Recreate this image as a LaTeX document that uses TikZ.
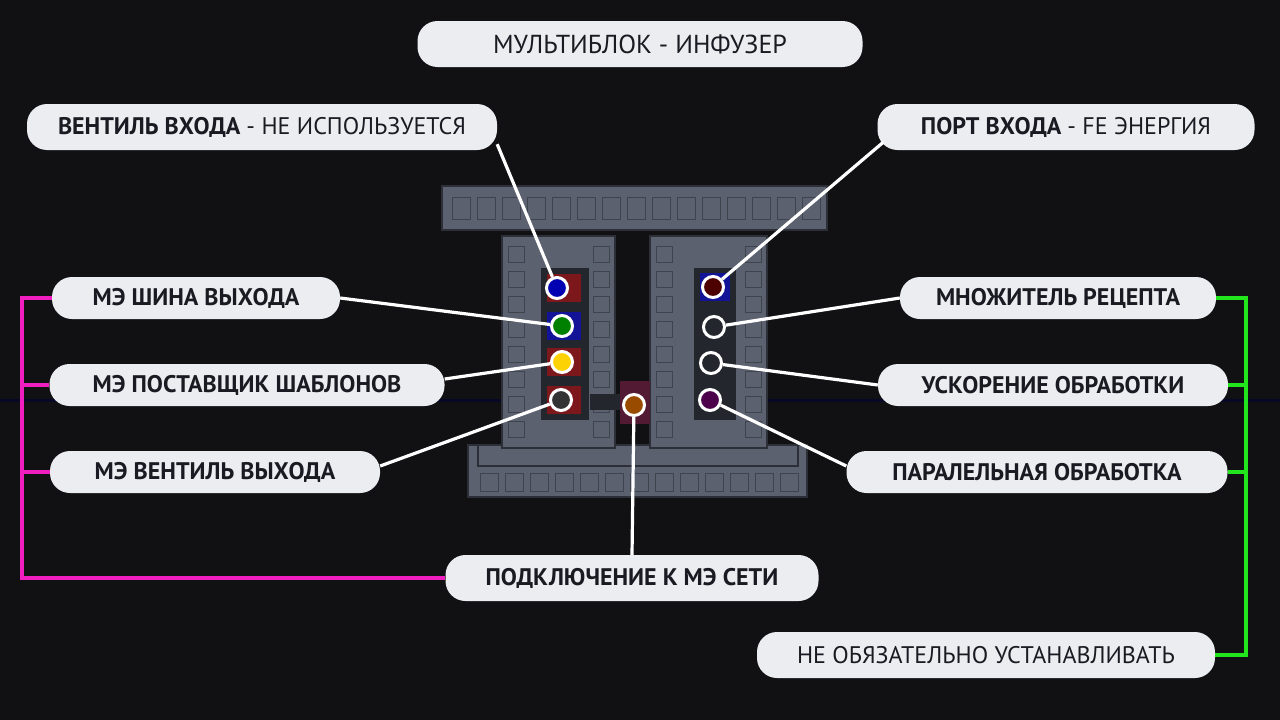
\documentclass[tikz,border=0pt]{standalone}
\usepackage{fontspec}
\setmainfont{PT Sans}
\begin{document}
\begin{tikzpicture}[x=1pt,y=-1pt,
 lab/.style={draw=none,fill=labfill,rounded corners=20pt,text=labtext,font=\fontsize{24}{26}\selectfont\bfseries,minimum height=42pt,inner xsep=8pt,align=center},
 con/.style={draw=white,line width=3.2pt},
 hole/.style={circle,draw=white,line width=3pt,minimum size=21pt,inner sep=0pt},
 blk/.style={fill=stone,draw=stoned,line width=2pt},
 mag/.style={draw=magline,line width=4pt},
 grn/.style={draw=grnline,line width=4pt}]
\definecolor{bg}{HTML}{111113}
\definecolor{labfill}{HTML}{ECEDF1}
\definecolor{labtext}{HTML}{1A1A22}
\definecolor{stone}{HTML}{5C6170}
\definecolor{stoned}{HTML}{2C2F38}
\definecolor{slot}{HTML}{24262E}
\definecolor{magline}{HTML}{F01EC0}
\definecolor{grnline}{HTML}{22E51E}
\fill[bg] (0,0) rectangle (1280,720);
\useasboundingbox (0,0) rectangle (1280,720);
\fill[black!80!blue!60!bg] (0,399) rectangle (1280,402);
% structure
\draw[blk] (468,445) rectangle (807,497);
\draw[blk] (478,445) rectangle (798,466);
\draw[blk] (502,236) rectangle (615,448);
\draw[blk] (650,236) rectangle (767,448);
\draw[blk] (442,186) rectangle (827,230);
\foreach \x in {452,477,...,815} \draw[stoned!60!stone,line width=1pt] (\x,197) rectangle ++(18,22);
\foreach \x in {480,505,...,790} \draw[stoned!60!stone,line width=1pt] (\x,473) rectangle ++(18,18);
\foreach \y in {246,271,...,430} {\draw[stoned!60!stone,line width=1pt] (508,\y) rectangle ++(16,16); \draw[stoned!60!stone,line width=1pt] (593,\y) rectangle ++(16,16);
 \draw[stoned!60!stone,line width=1pt] (656,\y) rectangle ++(16,16); \draw[stoned!60!stone,line width=1pt] (745,\y) rectangle ++(16,16);}
\fill[slot] (541,268) rectangle (589,420);
\fill[slot] (694,268) rectangle (736,420);
\fill[slot] (590,394) rectangle (622,410);
\fill[slot!70!purple] (620,381) rectangle (650,424);
\foreach \y in {288,326,362,400} \fill[slot!60!red] (547,\y-14) rectangle (581,\y+14);
\fill[blue!50!slot] (547,312) rectangle (581,340);
\fill[blue!50!slot] (700,273) rectangle (730,301);
\node[hole,fill=blue!70!black] (h1) at (557,288) {};
\node[hole,fill=green!50!black] (h2) at (562,326) {};
\node[hole,fill=yellow!70!orange] (h3) at (562,362) {};
\node[hole,fill=black!80] (h4) at (561,400) {};
\node[hole,fill=orange!60!black] (hc) at (634,405) {};
\node[hole,fill=red!30!black] (r1) at (713,287) {};
\node[hole,fill=slot] (r2) at (714,327) {};
\node[hole,fill=slot] (r3) at (711,363) {};
\node[hole,fill=violet!60!black] (r4) at (710,400) {};
% labels
\node[lab,font=\fontsize{26}{28}\selectfont,minimum height=46pt,minimum width=445pt] (t) at (640,44) {МУЛЬТИБЛОК - ИНФУЗЕР};
\node[lab,minimum height=46pt,minimum width=470pt] (l1) at (262,127) {ВЕНТИЛЬ ВХОДА \mdseries - НЕ ИСПОЛЬЗУЕТСЯ};
\node[lab,minimum height=46pt,minimum width=377pt] (r0) at (1066,127) {ПОРТ ВХОДА \mdseries - FE ЭНЕРГИЯ};
\node[lab,minimum width=288pt] (l2) at (196,298) {МЭ ШИНА ВЫХОДА};
\node[lab,minimum width=395pt] (l3) at (247,385) {МЭ ПОСТАВЩИК ШАБЛОНОВ};
\node[lab,minimum width=330pt] (l4) at (215,472) {МЭ ВЕНТИЛЬ ВЫХОДА};
\node[lab,minimum height=46pt,minimum width=373pt] (c) at (632,578) {ПОДКЛЮЧЕНИЕ К МЭ СЕТИ};
\node[lab,minimum width=316pt] (m1) at (1058,298) {МНОЖИТЕЛЬ РЕЦЕПТА};
\node[lab,minimum width=350pt] (m2) at (1053,385) {УСКОРЕНИЕ ОБРАБОТКИ};
\node[lab,minimum width=381pt] (m3) at (1037,472) {ПАРАЛЕЛЬНАЯ ОБРАБОТКА};
\node[lab,font=\fontsize{24}{26}\selectfont,minimum height=46pt,minimum width=458pt] (n) at (986,655) {НЕ ОБЯЗАТЕЛЬНО УСТАНАВЛИВАТЬ};
% connectors
\draw[con] (l1.south east) ++(10,0) ++(-10,-6) -- (h1);
\draw[con] (r0.south west) ++(6,-8) -- (r1);
\draw[con] (l2.east) -- (h2);
\draw[con] (l3.east) ++(0,-6) -- (h3);
\draw[con] (l4.east) ++(0,-6) -- (h4);
\draw[con] (c.north) -- (hc);
\draw[con] (m1.west) -- (r2);
\draw[con] (m2.west) -- (r3);
\draw[con] (m3.west) ++(0,-6) -- (r4);
% brackets
\draw[mag] (l2.west) -- (22,298) -- (22,578) -- (c.west);
\draw[mag] (l3.west) -- (22,385);
\draw[mag] (l4.west) -- (22,472);
\draw[grn] (m1.east) -- (1246,298) -- (1246,655) -- (n.east);
\draw[grn] (m2.east) -- (1246,385);
\draw[grn] (m3.east) -- (1246,472);
\end{tikzpicture}
\end{document}
